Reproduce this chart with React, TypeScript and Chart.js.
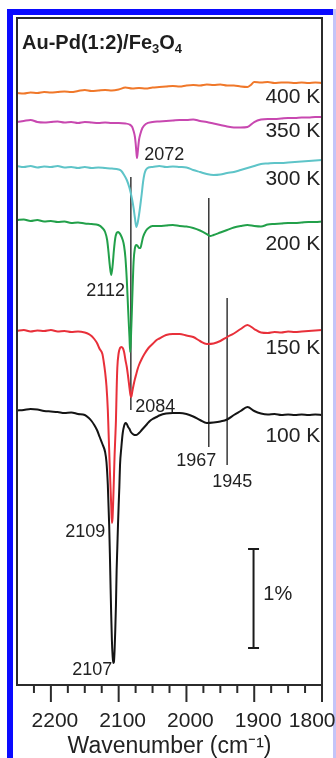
import React, { useEffect, useRef } from 'react';
import { Chart, registerables } from 'chart.js';

Chart.register(...registerables);

const FONT = '"Liberation Sans", Arial, Helvetica, sans-serif';

// ---------- spectra (x: wavenumber cm-1, y: offset signal, 1 unit = 0.01 %) ----------
const wn400 = [2250, 2240, 2230, 2220, 2210, 2200, 2190, 2180, 2170, 2160, 2150, 2140, 2130, 2120, 2110, 2100, 2090, 2080, 2070, 2060, 2050, 2040, 2030, 2020, 2010, 2000, 1990, 1980, 1970, 1960, 1950, 1940, 1930, 1920, 1910, 1905, 1900, 1890, 1880, 1870, 1860, 1850, 1840, 1830, 1820, 1810, 1800];
const t400 = [592, 591.5, 592.5, 592, 593, 592.5, 593, 593.5, 593, 594, 595, 594, 594.5, 595, 594.5, 595.5, 597.5, 596.5, 597, 596.5, 597.5, 598, 598.5, 599, 598.5, 599.5, 600, 599.5, 600.5, 600, 600.5, 599.5, 599.5, 598.5, 598, 600, 603, 602.5, 603, 602, 602.5, 602.5, 602, 602.5, 602, 602.5, 602];

const wn350 = [2250, 2240, 2230, 2220, 2210, 2200, 2190, 2180, 2170, 2160, 2150, 2140, 2130, 2120, 2110, 2100, 2090, 2084, 2080, 2078, 2076, 2075, 2074, 2073, 2072, 2071, 2070, 2068, 2065, 2060, 2050, 2040, 2030, 2020, 2010, 2000, 1990, 1980, 1970, 1960, 1950, 1940, 1930, 1920, 1910, 1900, 1890, 1880, 1870, 1860, 1850, 1840, 1830, 1820, 1810, 1800];
const t350 = [563, 564, 565, 563, 562.5, 563, 563.5, 562.5, 563, 562, 563, 562.5, 562, 562.5, 562, 562, 561.5, 560.5, 558, 554, 548, 542, 534, 527, 532, 539, 545, 551, 557, 561, 563, 563.5, 564, 564.5, 565, 565, 565.5, 564, 563, 561.5, 560, 558.5, 557.5, 557.5, 558, 563, 565.5, 566, 566, 566.5, 567, 567, 567.5, 567.5, 568, 568];

const wn300 = [2250, 2240, 2230, 2220, 2210, 2200, 2190, 2180, 2170, 2160, 2150, 2140, 2130, 2120, 2110, 2100, 2096, 2092, 2088, 2084, 2080, 2078, 2076, 2074, 2072, 2070, 2068, 2066, 2064, 2062, 2060, 2056, 2050, 2040, 2030, 2020, 2010, 2000, 1990, 1980, 1970, 1960, 1950, 1940, 1930, 1920, 1910, 1900, 1890, 1880, 1870, 1860, 1850, 1840, 1830, 1820, 1810, 1800];
const t300 = [519, 518, 519, 517.5, 518.5, 518, 519, 517.5, 518, 517, 518, 517, 517.5, 517, 516.5, 515.5, 514, 510, 505, 497, 485, 477, 467, 458, 462, 470, 480, 491, 503, 511, 515, 517.5, 518, 519, 518, 518.5, 518, 517.5, 515, 513, 511, 510, 510.5, 512, 513, 515, 517, 519, 521, 521.5, 522, 522, 522.5, 523, 523.5, 524, 524.5, 525];

const wn200 = [2250, 2240, 2230, 2220, 2210, 2200, 2190, 2180, 2170, 2160, 2150, 2140, 2130, 2124, 2120, 2117, 2115, 2113, 2111, 2109, 2107, 2105, 2103, 2101, 2099, 2097, 2094, 2092, 2090, 2088, 2086, 2084, 2083, 2082, 2080, 2078, 2076, 2074, 2072, 2070, 2068, 2066, 2064, 2060, 2056, 2050, 2040, 2030, 2020, 2010, 2000, 1990, 1980, 1970, 1965, 1960, 1950, 1940, 1930, 1920, 1910, 1900, 1890, 1880, 1870, 1860, 1850, 1840, 1830, 1820, 1810, 1800];
const t200 = [465, 465.5, 464, 465, 463.5, 464, 463, 463.5, 462, 462.5, 461.5, 461, 460, 457, 453, 445, 433, 419, 410, 419, 435, 447, 452, 453, 452, 450, 445, 439, 427, 405, 375, 347, 333, 345, 385, 423, 437, 440, 439, 437, 437, 442, 448, 454, 457, 459, 459, 459.5, 460, 459, 458.5, 457, 454.5, 451, 449, 450, 452.5, 455, 457.5, 459, 460, 459, 458.5, 460.5, 461, 461.5, 462, 462, 462.5, 463, 463, 463.5];

const wn150 = [2250, 2240, 2230, 2220, 2210, 2200, 2190, 2180, 2170, 2160, 2150, 2144, 2140, 2136, 2132, 2128, 2124, 2122, 2120, 2118, 2116, 2115, 2114, 2113, 2112, 2111, 2110, 2109, 2108, 2107, 2106, 2105, 2104, 2103, 2102, 2100, 2098, 2096, 2094, 2092, 2090, 2088, 2086, 2084, 2082, 2081, 2080, 2078, 2076, 2074, 2072, 2070, 2066, 2062, 2056, 2050, 2044, 2040, 2030, 2020, 2010, 2000, 1990, 1980, 1970, 1960, 1950, 1940, 1930, 1920, 1910, 1900, 1890, 1880, 1870, 1860, 1850, 1840, 1830, 1820, 1810, 1800];
const t150 = [354, 355, 353.5, 354.5, 354, 355, 353.5, 354, 353, 353.5, 352.5, 351, 349, 346, 342, 336, 331, 323, 313, 299, 275, 255, 235, 215, 197, 180, 162, 167, 185, 207, 230, 247, 265, 295, 317, 332, 337, 338, 337, 333, 325, 318, 308, 297, 288, 289, 293, 300, 306, 311, 316, 320, 326, 331, 337, 341, 345, 346.5, 350, 351, 351, 349.5, 348, 344, 341, 341.5, 344, 348, 351.5, 356, 360, 356, 352.5, 352, 353, 352.5, 353.5, 353, 353.5, 354, 354.5, 355];

const wn100 = [2250, 2240, 2230, 2220, 2210, 2200, 2190, 2180, 2170, 2160, 2150, 2144, 2140, 2136, 2132, 2128, 2124, 2120, 2118, 2116, 2114, 2113, 2112, 2111, 2110, 2109, 2108, 2107, 2106, 2105, 2104, 2103, 2102, 2101, 2100, 2099, 2098, 2096, 2094, 2092, 2090, 2088, 2086, 2084, 2082, 2078, 2074, 2070, 2066, 2062, 2058, 2054, 2050, 2044, 2040, 2030, 2020, 2010, 2000, 1990, 1980, 1970, 1960, 1950, 1940, 1930, 1920, 1910, 1900, 1890, 1880, 1870, 1860, 1850, 1840, 1830, 1820, 1810, 1800];
const t100 = [274.5, 275, 276, 275.5, 274, 273.5, 273, 272, 272.5, 271, 270, 267, 264, 260, 255, 248, 241, 233, 223, 200, 160, 132, 100, 70, 45, 30, 22, 23, 35, 55, 80, 115, 137, 160, 180, 198, 220, 238, 252, 259, 262, 261, 258, 256, 253, 250.5, 250, 252, 255, 258, 261, 264, 266, 268, 269.5, 271.5, 272, 272, 271, 268.5, 265, 262, 262.5, 263.5, 265.5, 270, 274, 278, 274, 271.5, 270.5, 271, 270, 270.5, 270, 270.5, 270, 270.5, 270];

// vertical marker lines (wavenumber, top, bottom)
const markerWn = [2082, 1967, 1940];
const markerTop = [508, 487, 387];
const markerBottom = [275, 238, 220];

// 1 % scale bar
const scaleBarWn = 1901;
const scaleBarEnds = [37, 136];

// x tick labels
const xTickLabels = [2200, 2100, 2000, 1900, 1800];

const series = [
  { label: '400 K', wn: wn400, val: t400, color: '#f0782a', order: 6 },
  { label: '350 K', wn: wn350, val: t350, color: '#c848b0', order: 5 },
  { label: '300 K', wn: wn300, val: t300, color: '#5ec4c8', order: 4 },
  { label: '200 K', wn: wn200, val: t200, color: '#22a04a', order: 1 },
  { label: '150 K', wn: wn150, val: t150, color: '#e8303a', order: 2 },
  { label: '100 K', wn: wn100, val: t100, color: '#141414', order: 3 },
];

// text annotations anchored in data coordinates
const annotations = [
  { text: '400 K', wn: 1802.5, y: 582, size: 21, align: 'right' },
  { text: '350 K', wn: 1802.5, y: 548, size: 21, align: 'right' },
  { text: '300 K', wn: 1802.5, y: 500, size: 21, align: 'right' },
  { text: '200 K', wn: 1802.5, y: 435.5, size: 21, align: 'right' },
  { text: '150 K', wn: 1802.5, y: 331, size: 21, align: 'right' },
  { text: '100 K', wn: 1802.5, y: 243, size: 21, align: 'right' },
  { text: '2072', wn: 2062.3, y: 525, size: 18, align: 'left' },
  { text: '2112', wn: 2147.8, y: 389, size: 18, align: 'left' },
  { text: '2084', wn: 2075.6, y: 273, size: 18, align: 'left' },
  { text: '1967', wn: 2015, y: 219, size: 18, align: 'left' },
  { text: '1945', wn: 1961.9, y: 198, size: 18, align: 'left' },
  { text: '2109', wn: 2178.9, y: 148, size: 18, align: 'left' },
  { text: '2107', wn: 2168.6, y: 10, size: 18, align: 'left' },
  { text: '1%', wn: 1886.6, y: 85, size: 20, align: 'left' },
];

const titleParts: [string, boolean][] = [
  ['Au-Pd(1:2)/Fe', false],
  ['3', true],
  ['O', false],
  ['4', true],
];

const decor = {
  id: 'decor',
  beforeDraw(chart: any) {
    const { ctx, width, height } = chart;
    ctx.save();
    ctx.fillStyle = '#ffffff';
    ctx.fillRect(0, 0, width, height);
    ctx.fillStyle = '#0a0aff';
    ctx.fillRect(7, 9, 6, height - 9);
    ctx.fillRect(7, 9, width - 7, 6);
    ctx.fillStyle = '#c4c4f8';
    ctx.fillRect(333, 9, 3, height - 9);
    ctx.restore();
  },
  afterDraw(chart: any) {
    const { ctx, chartArea: ca } = chart;
    const xs = chart.scales.x;
    const ys = chart.scales.y;
    ctx.save();
    // frame
    ctx.strokeStyle = '#2b2b2b';
    ctx.lineWidth = 2;
    ctx.strokeRect(ca.left, ca.top, ca.right - ca.left, ca.bottom - ca.top);
    // outward ticks
    for (const t of xs.ticks) {
      if (t.value >= 2250) continue;
      const px = xs.getPixelForValue(t.value);
      const major = t.value % 100 === 0;
      ctx.beginPath();
      ctx.moveTo(px, ca.bottom);
      ctx.lineTo(px, ca.bottom + (major ? 17 : 8));
      ctx.stroke();
    }
    // tick labels
    ctx.fillStyle = '#222';
    ctx.font = `21px ${FONT}`;
    ctx.textAlign = 'center';
    ctx.textBaseline = 'alphabetic';
    for (const v of xTickLabels) {
      const s = String(v);
      const w = ctx.measureText(s).width;
      let cx = xs.getPixelForValue(v) + 4;
      cx = Math.min(cx, chart.width - 0.5 - w / 2);
      ctx.fillText(s, cx, ca.bottom + 42);
    }
    // annotations
    for (const a of annotations) {
      ctx.font = `${a.size}px ${FONT}`;
      ctx.textAlign = a.align;
      ctx.fillText(a.text, xs.getPixelForValue(a.wn), ys.getPixelForValue(a.y));
    }
    // panel title with subscripts
    let x = ca.left + 5;
    const y = ca.top + 31;
    ctx.textAlign = 'left';
    ctx.fillStyle = '#1e1e1e';
    for (const [t, sub] of titleParts) {
      ctx.font = sub ? `bold 13px ${FONT}` : `bold 20px ${FONT}`;
      ctx.fillText(t, x, sub ? y + 4 : y);
      x += ctx.measureText(t).width;
    }
    ctx.restore();
  },
};

export default function App() {
  const ref = useRef<HTMLCanvasElement>(null);
  useEffect(() => {
    const datasets: any[] = series.map((s) => ({
      label: s.label,
      data: s.wn.map((w, i) => ({ x: w, y: s.val[i] })),
      borderColor: s.color,
      borderWidth: 2,
      pointRadius: 0,
      cubicInterpolationMode: 'monotone',
      fill: false,
      order: s.order,
    }));
    markerWn.forEach((w, i) => {
      datasets.push({
        label: 'marker' + i,
        data: [
          { x: w, y: markerTop[i] },
          { x: w, y: markerBottom[i] },
        ],
        borderColor: '#1a1a1a',
        borderWidth: 1.3,
        pointRadius: 0,
        fill: false,
        order: 7,
      });
    });
    datasets.push({
      label: 'scale',
      data: scaleBarEnds.map((v) => ({ x: scaleBarWn, y: v })),
      borderColor: '#1a1a1a',
      borderWidth: 2,
      pointStyle: 'line',
      pointRadius: 5.5,
      pointBorderWidth: 2,
      pointBorderColor: '#1a1a1a',
      pointBackgroundColor: '#1a1a1a',
      fill: false,
      order: 7,
    });

    const chart = new Chart(ref.current as HTMLCanvasElement, {
      type: 'line',
      data: { datasets },
      options: {
        animation: false,
        responsive: false,
        devicePixelRatio: 1,
        events: [],
        layout: { padding: { left: 17, right: 14, top: 18, bottom: 0 } },
        plugins: {
          legend: { display: false },
          tooltip: { enabled: false },
          title: { display: false },
        },
        scales: {
          x: {
            type: 'linear',
            reverse: true,
            min: 1800,
            max: 2250,
            ticks: { display: false, stepSize: 25 },
            grid: { display: false, drawTicks: false },
            border: { display: false },
            title: {
              display: true,
              text: 'Wavenumber (cm⁻¹)',
              color: '#222',
              font: { family: FONT, size: 23, lineHeight: 1 },
              padding: { top: 50, bottom: 0 },
            },
          },
          y: { type: 'linear', display: false, min: 0, max: 667 },
        },
      },
      plugins: [decor],
    } as any);
    return () => chart.destroy();
  }, []);
  return (
    <div style={{ position: 'absolute', left: 0, top: 0, width: 336, height: 758 }}>
      <canvas ref={ref} width={336} height={758} style={{ display: 'block' }} />
    </div>
  );
}
